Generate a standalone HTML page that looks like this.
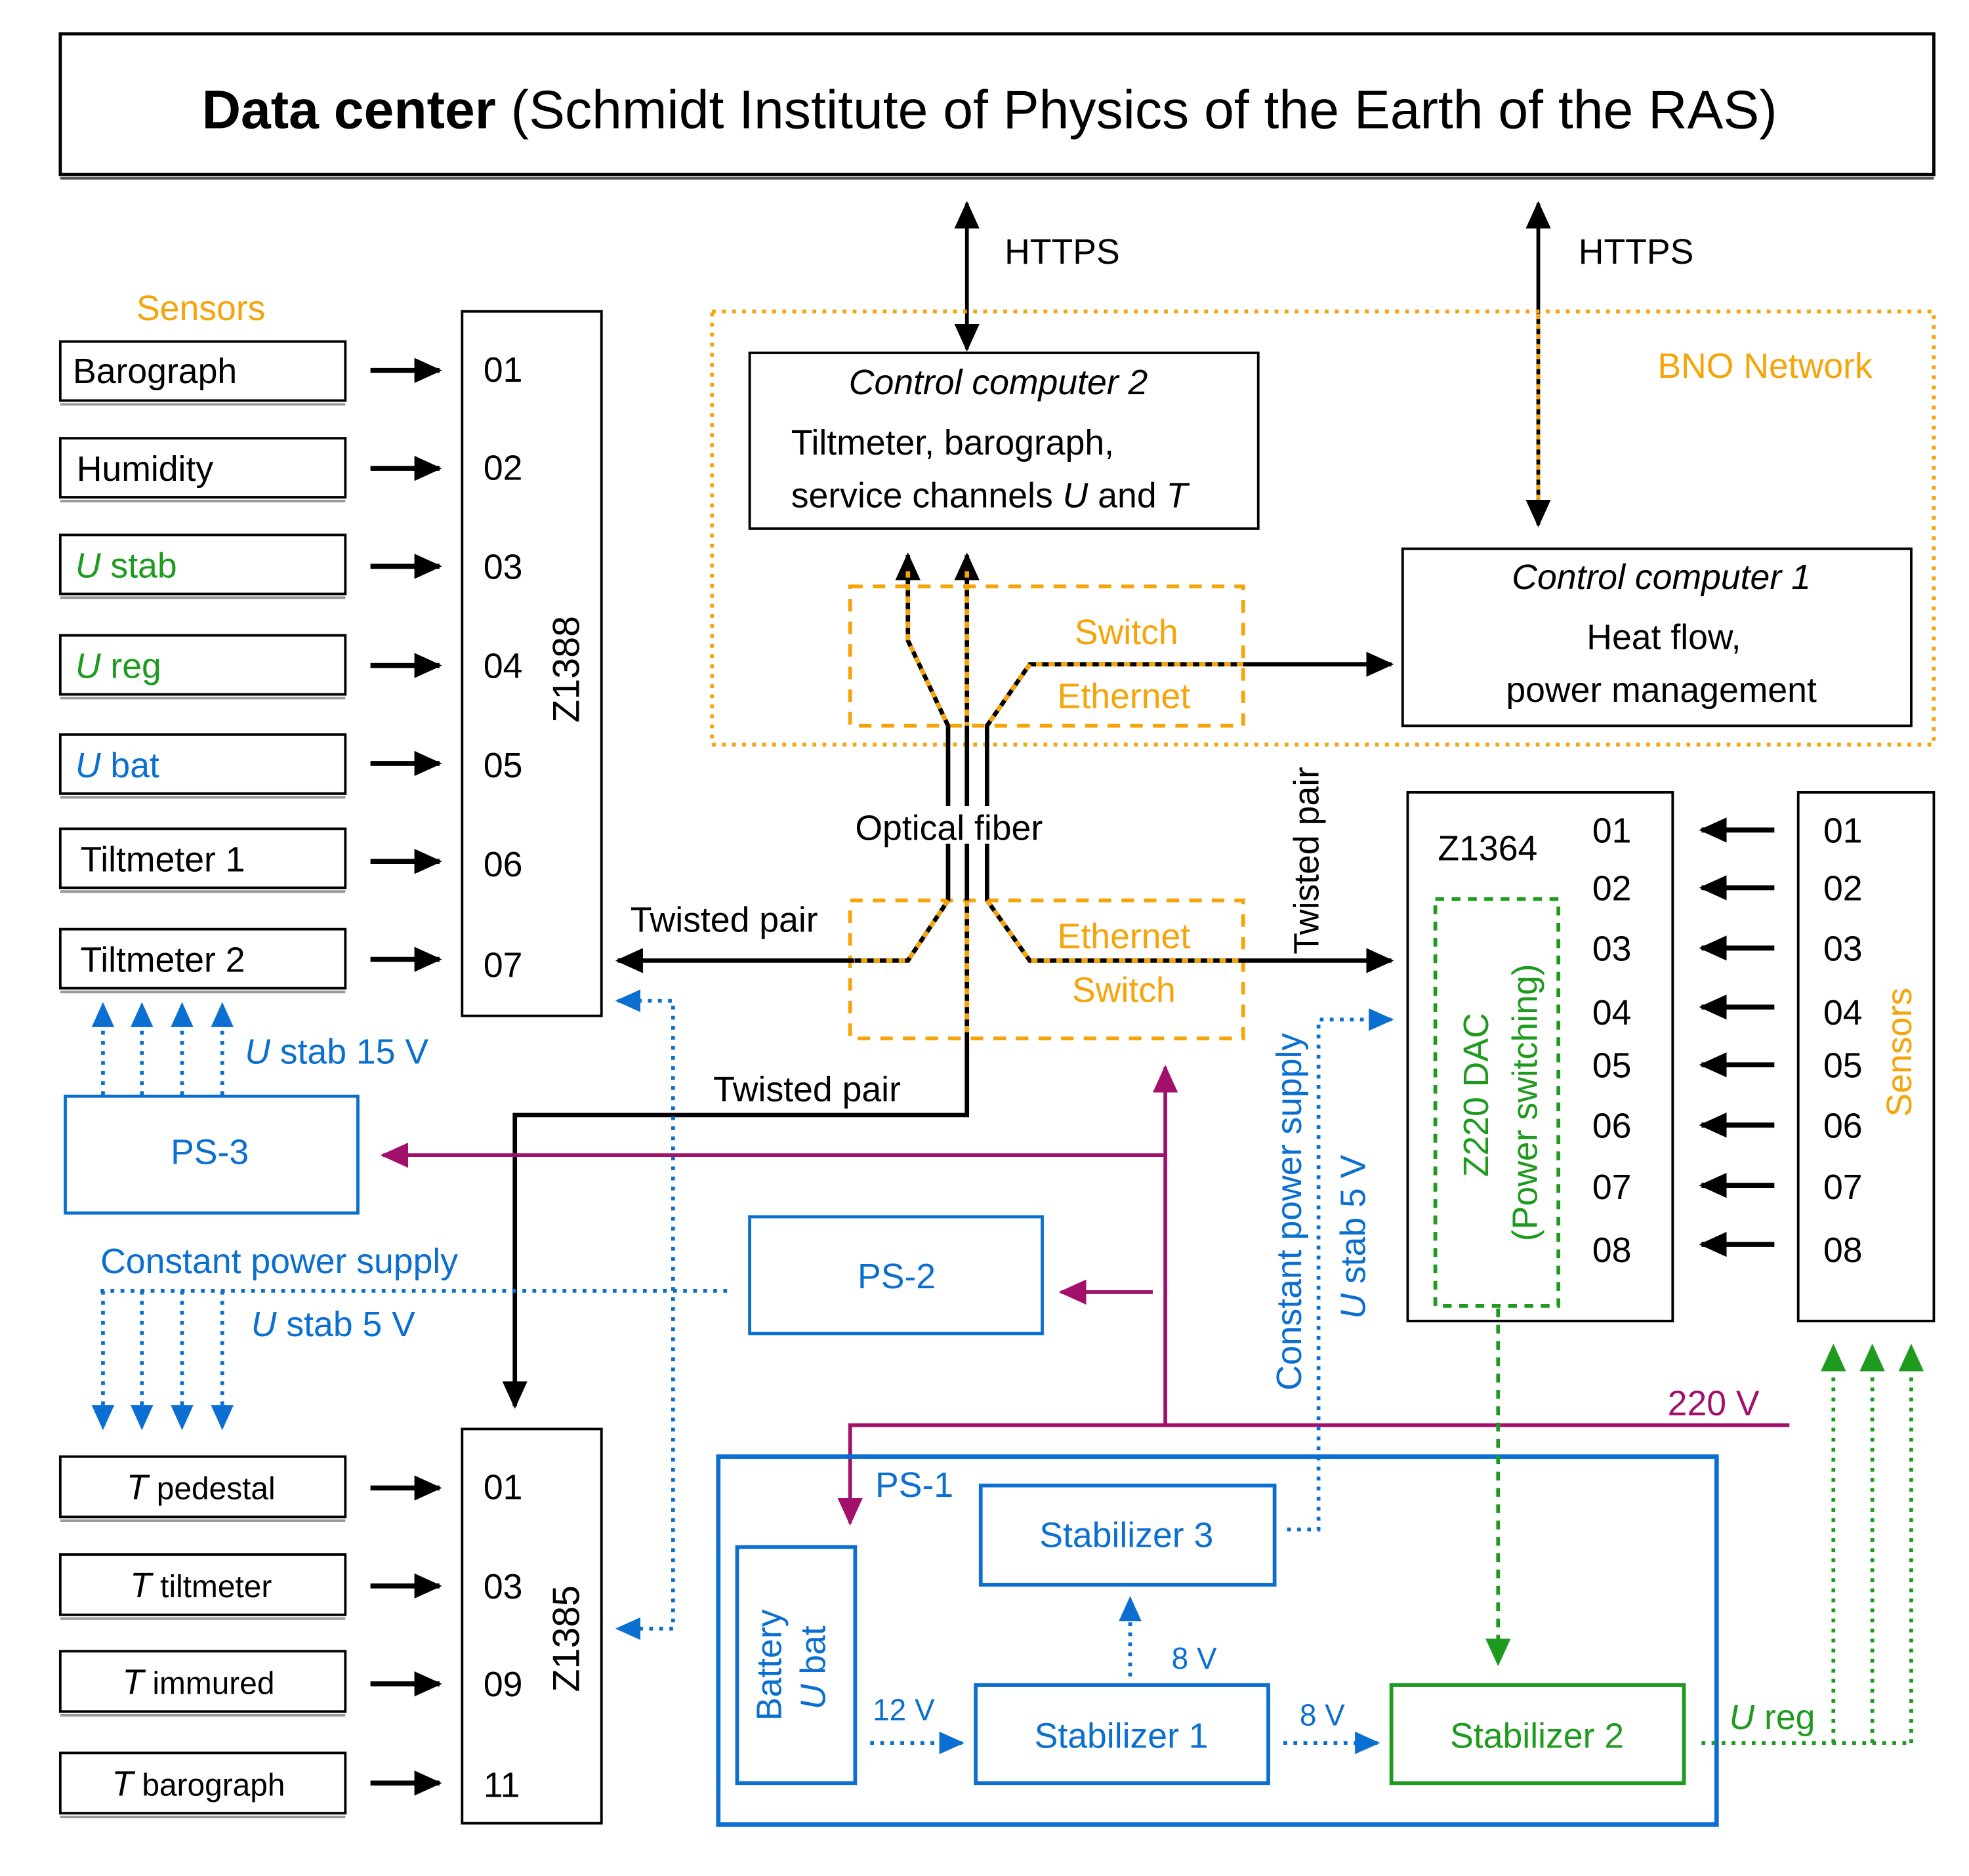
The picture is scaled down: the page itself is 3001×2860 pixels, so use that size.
<!DOCTYPE html>
<html><head><meta charset="utf-8"><style>html,body{margin:0;padding:0;background:#fff}svg{display:block}text{font-family:"Liberation Sans",sans-serif}</style></head><body>
<svg width="3001" height="2860" viewBox="0 0 1568 1494" preserveAspectRatio="none" xmlns="http://www.w3.org/2000/svg">
<defs>
<marker id="ak" markerUnits="userSpaceOnUse" markerWidth="22" markerHeight="20" refX="20" refY="10" orient="auto-start-reverse"><path d="M0,0L22,10L0,20z" fill="#000"/></marker>
<marker id="ab" markerUnits="userSpaceOnUse" markerWidth="20" markerHeight="20" refX="18" refY="10" orient="auto-start-reverse"><path d="M0,1L20,10L0,19z" fill="#0a6fd0"/></marker>
<marker id="am" markerUnits="userSpaceOnUse" markerWidth="22" markerHeight="20" refX="20" refY="10" orient="auto-start-reverse"><path d="M0,0L22,10L0,20z" fill="#a3106b"/></marker>
<marker id="ag" markerUnits="userSpaceOnUse" markerWidth="22" markerHeight="20" refX="20" refY="10" orient="auto-start-reverse"><path d="M0,0L22,10L0,20z" fill="#1e9a1e"/></marker>
</defs>
<g font-size="28">
<rect x="48" y="27" width="1492" height="112" fill="none" stroke="#000" stroke-width="2.5"/>
<line x1="48" y1="142" x2="1540" y2="142" stroke="#555" stroke-width="2"/>
<text x="788" y="102" font-size="43" text-anchor="middle"><tspan font-weight="bold">Data center</tspan> (Schmidt Institute of Physics of the Earth of the RAS)</text>
<line x1="770" y1="162" x2="770" y2="278" stroke="#000" stroke-width="3" marker-start="url(#ak)" marker-end="url(#ak)"/>
<text x="800" y="210">HTTPS</text>
<line x1="1225" y1="162" x2="1225" y2="418" stroke="#000" stroke-width="3" marker-start="url(#ak)" marker-end="url(#ak)"/>
<line x1="1225" y1="250" x2="1225" y2="400" stroke="#f5a40a" stroke-width="3" stroke-dasharray="4 4"/>
<text x="1257" y="210">HTTPS</text>
<rect x="567" y="248" width="973" height="345" fill="none" stroke="#f5a40a" stroke-width="3" stroke-dasharray="3 5"/>
<text x="1320" y="301" fill="#f5a40a">BNO Network</text>
<rect x="597" y="281" width="405" height="140" fill="#fff" stroke="#000" stroke-width="2"/>
<text x="795" y="314" text-anchor="middle" font-style="italic">Control computer 2</text>
<text x="630" y="362">Tiltmeter, barograph,</text>
<text x="630" y="404">service channels <tspan font-style="italic">U</tspan> and <tspan font-style="italic">T</tspan></text>
<rect x="1117" y="437" width="405" height="141" fill="#fff" stroke="#000" stroke-width="2"/>
<text x="1323" y="469" text-anchor="middle" font-style="italic">Control computer 1</text>
<text x="1325" y="517" text-anchor="middle">Heat flow,</text>
<text x="1323" y="559" text-anchor="middle">power management</text>
<rect x="677" y="467" width="313" height="111" fill="none" stroke="#f5a40a" stroke-width="3" stroke-dasharray="10 8"/>
<text x="897" y="513" fill="#f5a40a" text-anchor="middle">Switch</text>
<text x="895" y="564" fill="#f5a40a" text-anchor="middle">Ethernet</text>
<rect x="677" y="717" width="313" height="110" fill="none" stroke="#f5a40a" stroke-width="3" stroke-dasharray="10 8"/>
<text x="895" y="755" fill="#f5a40a" text-anchor="middle">Ethernet</text>
<text x="895" y="798" fill="#f5a40a" text-anchor="middle">Switch</text>
<g fill="none" stroke-width="3.5">
<path d="M723,442 V510 L755,578 V717 L723,765 H492" stroke="#000" marker-start="url(#ak)" marker-end="url(#ak)"/>
<path d="M770,442 V888 H410 V1120" stroke="#000" marker-start="url(#ak)" marker-end="url(#ak)"/>
<path d="M1108,529 H820 L786,578 V717 L820,765 H1108" stroke="#000" marker-start="url(#ak)" marker-end="url(#ak)"/>
<path d="M723,455 V510 L755,578" stroke="#f5a40a" stroke-dasharray="5 5"/>
<path d="M755,717 L723,765 H680" stroke="#f5a40a" stroke-dasharray="5 5"/>
<path d="M770,455 V578 M770,717 V827" stroke="#f5a40a" stroke-dasharray="5 5"/>
<path d="M990,529 H820 L786,578 M786,717 L820,765 H990" stroke="#f5a40a" stroke-dasharray="5 5"/>
</g>
<rect x="681" y="642" width="170" height="30" fill="#fff"/>
<text x="681" y="669">Optical fiber</text>
<text x="502" y="742">Twisted pair</text>
<text x="568" y="877">Twisted pair</text>
<text transform="translate(1050,760) rotate(-90)">Twisted pair</text>
<text x="160" y="255" text-anchor="middle" fill="#f5a40a">Sensors</text>
<g fill="#fff" stroke="#000" stroke-width="2">
<rect x="48" y="272" width="227" height="47"/><rect x="48" y="349" width="227" height="47"/>
<rect x="48" y="426" width="227" height="47"/><rect x="48" y="506" width="227" height="47"/>
<rect x="48" y="585" width="227" height="47"/><rect x="48" y="660" width="227" height="47"/>
<rect x="48" y="740" width="227" height="47"/>
<rect x="48" y="1160" width="227" height="48"/><rect x="48" y="1238" width="227" height="48"/>
<rect x="48" y="1315" width="227" height="48"/><rect x="48" y="1396" width="227" height="48"/>
<rect x="368" y="248" width="111" height="561"/>
<rect x="368" y="1138" width="111" height="314"/>
</g>
<g stroke="#999" stroke-width="2">
<line x1="48" y1="322" x2="275" y2="322"/><line x1="48" y1="399" x2="275" y2="399"/><line x1="48" y1="476" x2="275" y2="476"/><line x1="48" y1="556" x2="275" y2="556"/><line x1="48" y1="635" x2="275" y2="635"/><line x1="48" y1="710" x2="275" y2="710"/><line x1="48" y1="790" x2="275" y2="790"/>
<line x1="48" y1="1211" x2="275" y2="1211"/><line x1="48" y1="1289" x2="275" y2="1289"/><line x1="48" y1="1366" x2="275" y2="1366"/><line x1="48" y1="1447" x2="275" y2="1447"/>
</g>
<text x="58" y="305">Barograph</text>
<text x="61" y="383">Humidity</text>
<text x="60" y="460" fill="#1e9a1e"><tspan font-style="italic">U</tspan> stab</text>
<text x="60" y="540" fill="#1e9a1e"><tspan font-style="italic">U</tspan> reg</text>
<text x="60" y="619" fill="#0a6fd0"><tspan font-style="italic">U</tspan> bat</text>
<text x="64" y="694">Tiltmeter 1</text>
<text x="64" y="774">Tiltmeter 2</text>
<g font-size="25" text-anchor="middle">
<text x="160" y="1194"><tspan font-style="italic" font-size="28">T</tspan> pedestal</text>
<text x="160" y="1272"><tspan font-style="italic" font-size="28">T</tspan> tiltmeter</text>
<text x="158" y="1349"><tspan font-style="italic" font-size="28">T</tspan> immured</text>
<text x="158" y="1430"><tspan font-style="italic" font-size="28">T</tspan> barograph</text>
</g>
<g stroke="#000" stroke-width="4" marker-end="url(#ak)">
<line x1="295" y1="295" x2="350" y2="295"/><line x1="295" y1="373" x2="350" y2="373"/><line x1="295" y1="451" x2="350" y2="451"/><line x1="295" y1="530" x2="350" y2="530"/><line x1="295" y1="608" x2="350" y2="608"/><line x1="295" y1="686" x2="350" y2="686"/><line x1="295" y1="764" x2="350" y2="764"/>
<line x1="295" y1="1185" x2="350" y2="1185"/><line x1="295" y1="1263" x2="350" y2="1263"/><line x1="295" y1="1341" x2="350" y2="1341"/><line x1="295" y1="1420" x2="350" y2="1420"/>
</g>
<g>
<text x="385" y="304">01</text><text x="385" y="382">02</text><text x="385" y="461">03</text><text x="385" y="540">04</text><text x="385" y="619">05</text><text x="385" y="698">06</text><text x="385" y="778">07</text>
<text x="385" y="1194">01</text><text x="385" y="1273">03</text><text x="385" y="1351">09</text><text x="385" y="1431">11</text>
</g>
<text transform="translate(461,533) rotate(-90)" text-anchor="middle" font-size="30">Z1388</text>
<text transform="translate(461,1305) rotate(-90)" text-anchor="middle" font-size="30">Z1385</text>
<g stroke="#0a6fd0" stroke-width="3" stroke-dasharray="3 5" marker-end="url(#ab)">
<line x1="82" y1="872" x2="82" y2="800"/><line x1="113" y1="872" x2="113" y2="800"/><line x1="145" y1="872" x2="145" y2="800"/><line x1="177" y1="872" x2="177" y2="800"/>
<line x1="82" y1="1028" x2="82" y2="1137"/><line x1="113" y1="1028" x2="113" y2="1137"/><line x1="145" y1="1028" x2="145" y2="1137"/><line x1="177" y1="1028" x2="177" y2="1137"/>
</g>
<text x="195" y="847" fill="#0a6fd0"><tspan font-style="italic">U</tspan> stab  15 V</text>
<rect x="52" y="873" width="233" height="93" fill="#fff" stroke="#0a6fd0" stroke-width="2.5"/>
<text x="167" y="927" fill="#0a6fd0" text-anchor="middle">PS-3</text>
<text x="80" y="1014" fill="#0a6fd0">Constant power supply</text>
<line x1="80" y1="1028" x2="583" y2="1028" stroke="#0a6fd0" stroke-width="3" stroke-dasharray="3 5"/>
<text x="200" y="1064" fill="#0a6fd0"><tspan font-style="italic">U</tspan> stab  5 V</text>
<rect x="597" y="969" width="233" height="93" fill="#fff" stroke="#0a6fd0" stroke-width="2.5"/>
<text x="714" y="1026" fill="#0a6fd0" text-anchor="middle">PS-2</text>
<path d="M492,797 H536 V1297 H492" fill="none" stroke="#0a6fd0" stroke-width="3" stroke-dasharray="3 5" marker-start="url(#ab)" marker-end="url(#ab)"/>
<g fill="none" stroke="#a3106b" stroke-width="3">
<path d="M928,1135 V850" marker-end="url(#am)"/>
<path d="M928,920 H305" marker-end="url(#am)"/>
<path d="M918,1029 H845" marker-end="url(#am)"/>
<path d="M1425,1135 H677 V1213" marker-end="url(#am)"/>
</g>
<text x="1328" y="1127" fill="#a3106b">220 V</text>
<rect x="572" y="1160" width="795" height="293" fill="none" stroke="#0a6fd0" stroke-width="3.5"/>
<text x="697" y="1192" fill="#0a6fd0">PS-1</text>
<g fill="#fff" stroke="#0a6fd0" stroke-width="3">
<rect x="587" y="1232" width="94" height="188"/>
<rect x="781" y="1183" width="234" height="79"/>
<rect x="777" y="1342" width="233" height="78"/>
</g>
<rect x="1108" y="1342" width="233" height="78" fill="#fff" stroke="#1e9a1e" stroke-width="3"/>
<text transform="translate(622,1326) rotate(-90)" text-anchor="middle" fill="#0a6fd0">Battery</text>
<text transform="translate(657,1328) rotate(-90)" text-anchor="middle" fill="#0a6fd0"><tspan font-style="italic">U</tspan> bat</text>
<text x="897" y="1232" text-anchor="middle" fill="#0a6fd0">Stabilizer 3</text>
<text x="893" y="1392" text-anchor="middle" fill="#0a6fd0">Stabilizer 1</text>
<text x="1224" y="1392" text-anchor="middle" fill="#1e9a1e">Stabilizer 2</text>
<g stroke="#0a6fd0" stroke-width="3" stroke-dasharray="3 5" fill="none" marker-end="url(#ab)">
<line x1="693" y1="1388" x2="766" y2="1388"/>
<line x1="1022" y1="1388" x2="1097" y2="1388"/>
<line x1="900" y1="1335" x2="900" y2="1273"/>
<path d="M1025,1218 H1050 V812 H1108"/>
</g>
<text x="695" y="1370" font-size="24" fill="#0a6fd0">12 V</text>
<text x="1035" y="1374" font-size="24" fill="#0a6fd0">8 V</text>
<text x="933" y="1329" font-size="24" fill="#0a6fd0">8 V</text>
<text transform="translate(1036,965) rotate(-90)" text-anchor="middle" fill="#0a6fd0">Constant power supply</text>
<text transform="translate(1087,985) rotate(-90)" text-anchor="middle" fill="#0a6fd0"><tspan font-style="italic">U</tspan> stab  5 V</text>
<rect x="1121" y="631" width="211" height="421" fill="#fff" stroke="#000" stroke-width="2"/>
<rect x="1432" y="631" width="108" height="421" fill="#fff" stroke="#000" stroke-width="2"/>
<text x="1145" y="685">Z1364</text>
<rect x="1143" y="716" width="98" height="324" fill="none" stroke="#1e9a1e" stroke-width="3" stroke-dasharray="7 6"/>
<text transform="translate(1185,872) rotate(-90)" text-anchor="middle" fill="#1e9a1e">Z220 DAC</text>
<text transform="translate(1224,878) rotate(-90)" text-anchor="middle" fill="#1e9a1e">(Power switching)</text>
<g>
<text x="1268" y="671">01</text><text x="1268" y="717">02</text><text x="1268" y="765">03</text><text x="1268" y="816">04</text><text x="1268" y="858">05</text><text x="1268" y="906">06</text><text x="1268" y="955">07</text><text x="1268" y="1005">08</text>
<text x="1452" y="671">01</text><text x="1452" y="717">02</text><text x="1452" y="765">03</text><text x="1452" y="816">04</text><text x="1452" y="858">05</text><text x="1452" y="906">06</text><text x="1452" y="955">07</text><text x="1452" y="1005">08</text>
</g>
<text transform="translate(1522,838) rotate(-90)" text-anchor="middle" fill="#f5a40a">Sensors</text>
<g stroke="#000" stroke-width="4" marker-end="url(#ak)">
<line x1="1413" y1="661" x2="1355" y2="661"/><line x1="1413" y1="707" x2="1355" y2="707"/><line x1="1413" y1="755" x2="1355" y2="755"/><line x1="1413" y1="802" x2="1355" y2="802"/><line x1="1413" y1="848" x2="1355" y2="848"/><line x1="1413" y1="896" x2="1355" y2="896"/><line x1="1413" y1="944" x2="1355" y2="944"/><line x1="1413" y1="991" x2="1355" y2="991"/>
</g>
<g stroke="#1e9a1e" stroke-width="3" stroke-dasharray="3 5" fill="none">
<line x1="1193" y1="1042" x2="1193" y2="1325" stroke-dasharray="7 6" marker-end="url(#ag)"/>
<line x1="1355" y1="1388" x2="1522" y2="1388"/>
<line x1="1460" y1="1388" x2="1460" y2="1072" marker-end="url(#ag)"/>
<line x1="1491" y1="1388" x2="1491" y2="1072" marker-end="url(#ag)"/>
<line x1="1522" y1="1388" x2="1522" y2="1072" marker-end="url(#ag)"/>
</g>
<text x="1377" y="1377" fill="#1e9a1e"><tspan font-style="italic">U</tspan> reg</text>
</g>
</svg>
</body></html>
